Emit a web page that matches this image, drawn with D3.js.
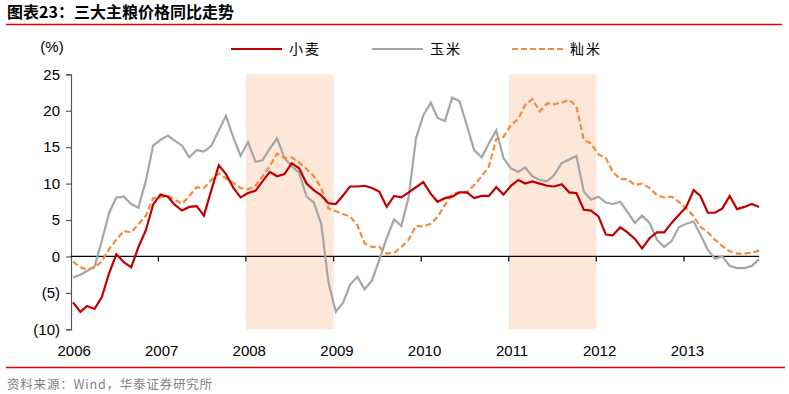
<!DOCTYPE html>
<html lang="zh">
<head>
<meta charset="UTF-8">
<script src="https://d3js.org/d3.v7.min.js"></script>
<title>三大主粮价格同比走势</title>
<style>
    body{ margin:0; background:#fff; }
    svg{ display:block; }
    text{ font-family: "Liberation Sans", Arial, "Noto Sans CJK SC", sans-serif; }
    .cjk{ font-family: "Noto Sans CJK SC", sans-serif; }
</style>
</head>
<body>
<svg width="789" height="394"></svg>
<script>
// monthly yoy %, Jan 2006 .. Nov 2013
let wheat = [
    -6.3,-7.6,-6.8,-7.2,-5.6,-2.3,0.3,-0.8,-1.5,1.3,3.6,7.1,
    8.5,8.2,7.1,6.3,6.8,6.9,5.6,9.1,12.5,11.3,9.4,8.1,
    8.7,9.0,10.3,11.6,11.0,11.3,12.8,12.1,10.0,9.1,8.4,7.3,
    7.2,8.4,9.6,9.6,9.7,9.4,8.9,6.8,8.3,8.1,8.8,9.5,
    10.2,8.6,7.5,8.0,8.2,8.8,8.8,8.0,8.3,8.3,9.5,8.5,
    9.7,10.5,10.0,10.3,10.0,9.7,9.6,9.9,8.8,8.7,6.4,6.3,
    5.5,3.0,2.9,4.0,3.3,2.4,1.1,2.5,3.3,3.3,4.6,5.7,
    6.8,9.1,8.3,6.0,6.0,6.6,8.3,6.5,6.8,7.2,6.8
]
let corn = [
    -2.9,-2.5,-2.0,-1.4,2.1,6.0,8.1,8.2,7.2,6.7,10.4,15.2,
    16.0,16.6,15.9,15.2,13.6,14.6,14.4,15.2,17.3,19.3,16.3,13.8,
    15.7,13.0,13.2,14.8,16.2,13.5,12.4,11.5,8.2,7.4,4.5,-3.5,
    -7.6,-6.3,-3.9,-2.8,-4.5,-3.3,-0.5,2.5,5.1,4.2,8.2,16.2,
    19.4,21.1,19.0,18.6,21.8,21.3,18.0,14.6,13.6,15.5,17.3,13.5,
    12.1,11.6,12.2,11.0,10.5,10.3,11.2,12.8,13.3,13.8,8.9,7.8,
    8.2,7.4,7.2,7.5,6.1,4.6,5.6,4.6,2.3,1.3,2.1,4.0,
    4.5,4.8,3.0,0.9,-0.3,0.0,-1.3,-1.6,-1.6,-1.3,-0.4
]
let rice = [
    -0.7,-1.5,-1.8,-1.5,-0.7,1.0,2.3,3.5,3.3,4.4,5.6,8.0,
    8.1,8.3,7.8,7.2,8.3,9.5,9.4,10.5,11.4,10.7,10.1,9.4,
    9.2,9.7,11.0,12.4,14.1,13.5,13.6,12.9,12.0,11.0,9.4,6.6,
    6.2,5.8,5.5,4.3,1.8,1.3,1.3,0.4,0.5,1.3,2.3,4.2,
    4.1,4.5,5.4,7.1,8.6,8.8,8.8,9.8,11.0,12.3,16.1,16.4,
    18.0,18.9,20.8,21.6,19.9,21.0,20.9,21.1,21.5,20.6,16.0,15.5,
    14.0,13.5,11.6,10.6,10.6,9.8,10.0,9.4,8.4,8.1,8.2,7.5,
    6.6,5.5,4.1,3.3,2.3,1.4,0.7,0.4,0.4,0.5,0.8
]
let years = [2006,2007,2008,2009,2010,2011,2012,2013]
let yTicks = [25,20,15,10,5,0,-5,-10]
let shadeYears = [2008, 2011]
let seriesNames = ["小麦","玉米","籼米"]
let colors = ["#c00000","#a6a6a6","#f58a3c"]

let dates = d3.range(wheat.length).map(i => new Date(2006, i, 10))

let svg = d3.select("svg")
let x = d3.scaleTime().domain([new Date(2006,0,1), new Date(2014,0,1)]).range([70.8, 70.8 + 8*87.6])
let xEnd = new Date(2013,10,10)
let y = d3.scaleLinear().domain([-10, 25]).range([329.3, 74.3])

// title
svg.append("text").attr("class","cjk").attr("x",7).attr("y",18)
    .attr("font-size",16).attr("font-weight","bold").attr("fill","#000")
    .text("图表23：三大主粮价格同比走势")
svg.append("line").attr("x1",6).attr("x2",782).attr("y1",24.5).attr("y2",24.5)
    .attr("stroke","#e60000").attr("stroke-width",1.3)

// shaded years
svg.selectAll("rect.shade").data(shadeYears).enter().append("rect")
    .attr("class","shade")
    .attr("x", d => x(new Date(d,0,1)))
    .attr("width", d => x(new Date(d+1,0,1)) - x(new Date(d,0,1)))
    .attr("y", y(25)).attr("height", y(-10) - y(25))
    .attr("fill","#fde7d8")

// y axis
let yAxis = d3.axisLeft(y).tickValues(yTicks).tickSize(5).tickPadding(6)
    .tickFormat(d => d < 0 ? "(" + Math.abs(d) + ")" : d)
let gy = svg.append("g").attr("transform","translate(71,0)").call(yAxis)
gy.select(".domain").attr("stroke","#595959").attr("stroke-width",1.2)
gy.selectAll(".tick line").attr("stroke","#595959").attr("stroke-width",1.2)
gy.selectAll(".tick text").attr("font-size",15).attr("fill","#000")
    .attr("font-family","'Liberation Sans', Arial, sans-serif")
svg.append("text").attr("x",52).attr("y",52).attr("text-anchor","middle")
    .attr("font-size",15).attr("fill","#000").text("(%)")

// zero line with year ticks
let gx = svg.append("g").attr("transform","translate(0," + y(0) + ")")
gx.append("line").attr("x1",x(new Date(2006,0,1))).attr("x2",x(xEnd))
    .attr("stroke","#000").attr("stroke-width",1.2)
gx.selectAll("line.tk").data(years.slice(1)).enter().append("line")
    .attr("class","tk")
    .attr("x1", d => x(new Date(d,0,1))).attr("x2", d => x(new Date(d,0,1)))
    .attr("y1",0).attr("y2",5)
    .attr("stroke","#000").attr("stroke-width",1.2)

svg.selectAll("text.year").data(years).enter().append("text")
    .attr("class","year")
    .attr("x", d => x(new Date(d,0,15)))
    .attr("y", 356).attr("text-anchor","middle")
    .attr("font-size",15).attr("fill","#000")
    .text(d => d)

// lines
let line = d3.line().x((d,i) => x(dates[i])).y(d => y(d))
svg.append("path").datum(corn).attr("d",line).attr("fill","none")
    .attr("stroke",colors[1]).attr("stroke-width",2.2)
svg.append("path").datum(rice).attr("d",line).attr("fill","none")
    .attr("stroke",colors[2]).attr("stroke-width",2.2).attr("stroke-dasharray","6,3")
svg.append("path").datum(wheat).attr("d",line).attr("fill","none")
    .attr("stroke",colors[0]).attr("stroke-width",2.2)

// legend
let legendX = [231, 372, 512]
let lg = svg.selectAll("g.legend").data(seriesNames).enter().append("g")
    .attr("class","legend")
    .attr("transform",(d,i) => "translate(" + legendX[i] + ",49)")
lg.append("line").attr("x1",0).attr("x2",51).attr("y1",0).attr("y2",0)
    .attr("stroke",(d,i) => colors[i]).attr("stroke-width",2.2)
    .attr("stroke-dasharray",(d,i) => i == 2 ? "6,3" : null)
lg.append("text").attr("class","cjk").attr("x",58).attr("y",5)
    .attr("font-size",14).attr("letter-spacing",2).attr("fill","#000")
    .text(d => d)

// footer
svg.append("line").attr("x1",6).attr("x2",785).attr("y1",367.5).attr("y2",367.5)
    .attr("stroke","#e60000").attr("stroke-width",1.3)
svg.append("text").attr("class","cjk").attr("x",7).attr("y",389)
    .attr("font-size",12.5).attr("letter-spacing",0.8).attr("fill","#7f7f7f")
    .text("资料来源：Wind，华泰证券研究所")
</script>
</body>
</html>
